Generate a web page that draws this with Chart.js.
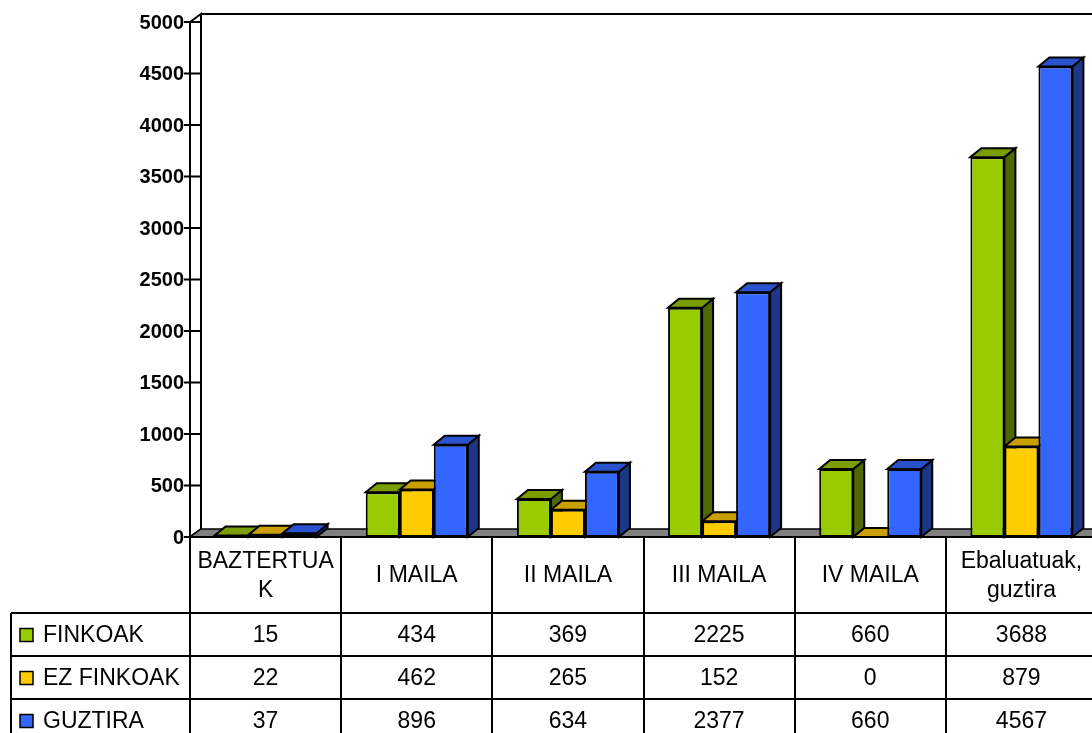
<!DOCTYPE html>
<html>
<head>
<meta charset="utf-8">
<script src="https://cdn.jsdelivr.net/npm/chart.js@4/dist/chart.umd.min.js"></script>
<style>
	html, body { margin: 0; padding: 0; background: #fff; overflow: hidden; }
	#chart { display: block; }
</style>
</head>
<body>
<canvas id="chart" width="1098" height="733" style="width:1098px;height:733px"></canvas>
<script>
const categories = [['BAZTERTUA', 'K'], 'I MAILA', 'II MAILA', 'III MAILA', 'IV MAILA', ['Ebaluatuak,', 'guztira']];
const seriesNames = ['FINKOAK', 'EZ FINKOAK', 'GUZTIRA'];
const finkoak = [15, 434, 369, 2225, 660, 3688];
const ezFinkoak = [22, 462, 265, 152, 0, 879];
const guztira = [37, 896, 634, 2377, 660, 4567];
const yMax = 5000;
const yStep = 500;

const frontColors = ['#99cc00', '#ffcc00', '#3366ff'],
	topColors = ['#7a9e00', '#c9a000', '#2a52cc'],
	sideColors = ['#4f6800', '#8a6e00', '#1c3785'];

const depth = { dx: 11, dy: 9 };
const FONT = '"Liberation Sans", Arial, sans-serif';

const poly = (ctx, pts, fill) => {
	ctx.beginPath();
	ctx.moveTo(pts[0][0], pts[0][1]);
	pts.slice(1).forEach(p => ctx.lineTo(p[0], p[1]));
	ctx.closePath();
	if (fill) {
		ctx.fillStyle = fill;
		ctx.fill();
	}
	ctx.stroke();
};

const threeD = {
	id: 'threeD',
	beforeDatasetsDraw(chart) {
		const { ctx, chartArea: a, scales: { y } } = chart;
		const W = chart.width;

		ctx.save();
		ctx.strokeStyle = '#000';
		ctx.lineWidth = 2;

		// side wall + back top edge
		poly(ctx, [[a.left, a.bottom], [a.left, a.top], [a.left + 11, a.top - 8], [a.left + 11, a.bottom - 8]], '#fff');
		ctx.beginPath();
		ctx.moveTo(a.left + 11, a.top - 8);
		ctx.lineTo(W, a.top - 8);
		ctx.stroke();

		// floor
		ctx.lineWidth = 1.5;
		poly(ctx, [[a.left, a.bottom], [a.left + 11, a.bottom - 8], [W + 2, a.bottom - 8], [W + 2, a.bottom]], '#808080');

		// y ticks
		ctx.lineWidth = 2;
		ctx.fillStyle = '#000';
		ctx.font = 'bold 20px ' + FONT;
		ctx.textAlign = 'right';
		ctx.textBaseline = 'middle';
		y.ticks.forEach(t => {
			const py = y.getPixelForValue(t.value);
			ctx.beginPath();
			ctx.moveTo(a.left - 6, py);
			ctx.lineTo(a.left + 11, py);
			ctx.stroke();
			ctx.fillText(String(t.value), a.left - 6, py + 1);
		});
		ctx.beginPath();
		ctx.moveTo(a.left, a.top);
		ctx.lineTo(a.left, a.bottom);
		ctx.stroke();

		// bar tops and sides
		ctx.lineWidth = 2;
		chart.data.datasets.forEach((ds, i) => {
			chart.getDatasetMeta(i).data.forEach(bar => {
				const { x: bx, y: by, width: w, base } = bar.getProps(['x', 'y', 'width', 'base'], true);
				const l = bx - w / 2, r = bx + w / 2;
				poly(ctx, [[r, by], [r + depth.dx, by - depth.dy], [r + depth.dx, base - depth.dy], [r, base]], sideColors[i]);
				poly(ctx, [[l, by], [l + depth.dx, by - depth.dy], [r + depth.dx, by - depth.dy], [r, by]], topColors[i]);
			});
		});
		ctx.restore();
	},
	afterDraw(chart) {
		const { ctx, chartArea: a, scales: { x } } = chart;
		const W = chart.width;
		const cw = (a.right - a.left) / categories.length;
		const headTop = a.bottom, headBottom = 613, rowH = 43;
		const rows = [finkoak, ezFinkoak, guztira];
		const tableBottom = headBottom + rowH * rows.length;
		const tableLeft = 11;

		ctx.save();
		ctx.strokeStyle = '#000';
		ctx.lineWidth = 2;

		// grid
		ctx.beginPath();
		ctx.moveTo(a.left, headTop);
		ctx.lineTo(W, headTop);
		for (let i = 0; i <= rows.length - 1; i++) {
			ctx.moveTo(tableLeft, headBottom + rowH * i);
			ctx.lineTo(W, headBottom + rowH * i);
		}
		for (let j = 0; j <= categories.length; j++) {
			const px = Math.round(a.left + cw * j);
			ctx.moveTo(px, headTop);
			ctx.lineTo(px, tableBottom);
		}
		ctx.moveTo(tableLeft, headBottom);
		ctx.lineTo(tableLeft, tableBottom);
		ctx.stroke();

		ctx.fillStyle = '#000';
		ctx.font = '23px ' + FONT;
		ctx.textAlign = 'center';
		ctx.textBaseline = 'middle';

		// header
		const headMid = (headTop + headBottom) / 2;
		categories.forEach((c, j) => {
			const lines = Array.isArray(c) ? c : [c];
			const cx = x.getPixelForValue(j);
			lines.forEach((t, k) => {
				ctx.fillText(t, cx, headMid + (k - (lines.length - 1) / 2) * 29 + 1);
			});
		});

		// rows
		rows.forEach((vals, i) => {
			const cy = headBottom + rowH * i + rowH / 2 + 1;
			vals.forEach((v, j) => {
				ctx.fillText(String(v), x.getPixelForValue(j), cy);
			});
			ctx.lineWidth = 1.5;
			ctx.fillStyle = frontColors[i];
			ctx.fillRect(20, cy - 7, 13, 13);
			ctx.strokeRect(20, cy - 7, 13, 13);
			ctx.fillStyle = '#000';
			ctx.textAlign = 'left';
			ctx.fillText(seriesNames[i], 43, cy);
			ctx.textAlign = 'center';
		});
		ctx.restore();
	}
};

const series = [finkoak, ezFinkoak, guztira];

new Chart(document.getElementById('chart'), {
	type: 'bar',
	data: {
		labels: categories,
		datasets: series.map((data, i) => ({
			label: seriesNames[i],
			data,
			backgroundColor: frontColors[i],
			borderColor: '#000',
			borderWidth: 2,
			borderSkipped: false,
			barPercentage: 1,
			categoryPercentage: 0.675
		}))
	},
	options: {
		responsive: false,
		animation: false,
		layout: { padding: { left: 190, right: 1, top: 22, bottom: 196 } },
		plugins: { legend: { display: false }, tooltip: { enabled: false } },
		scales: {
			x: { display: false },
			y: { display: false, min: 0, max: yMax, ticks: { stepSize: yStep } }
		}
	},
	plugins: [threeD]
});
</script>
</body>
</html>
